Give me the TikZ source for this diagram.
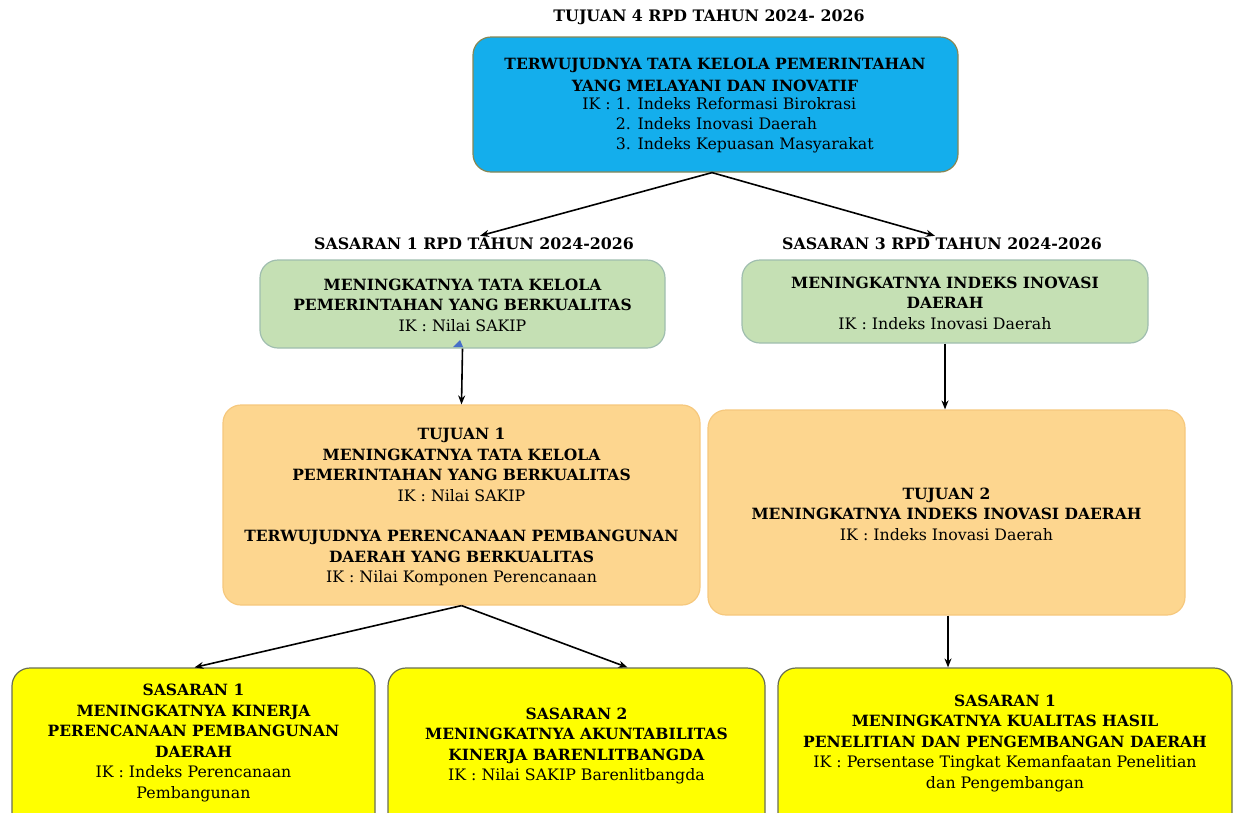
\documentclass[tikz,border=0pt]{standalone}
\usepackage{fontspec}
\setmainfont{DejaVu Serif}
\usetikzlibrary{arrows.meta,calc}
\definecolor{bluefill}{RGB}{20,174,236}
\definecolor{blueline}{RGB}{135,135,85}
\definecolor{greenfill}{RGB}{197,224,180}
\definecolor{greenline}{RGB}{160,190,175}
\definecolor{orangefill}{RGB}{253,214,143}
\definecolor{orangeline}{RGB}{246,200,125}
\definecolor{yellowfill}{RGB}{255,255,0}
\definecolor{yellowline}{RGB}{105,110,85}
\definecolor{tinyblue}{RGB}{70,110,200}
\newcommand{\bt}[1]{{\fontsize{15.5}{20}\selectfont\bfseries #1}}
\begin{document}
\begin{tikzpicture}[x=1pt,y=-1pt,
  boxbase/.style={rounded corners=18pt,line width=1.2pt,inner sep=0pt},
  bluebox/.style={boxbase,fill=bluefill,draw=blueline},
  greenbox/.style={boxbase,fill=greenfill,draw=greenline},
  orangebox/.style={boxbase,fill=orangefill,draw=orangeline},
  yellowbox/.style={boxbase,fill=yellowfill,draw=yellowline},
  titletext/.style={font=\fontsize{15.8}{18}\selectfont\bfseries,inner sep=2pt},
  txt/.style={align=center,font=\fontsize{15.8}{20.5}\selectfont,inner sep=0pt},
  txtl/.style={align=left,font=\fontsize{15.8}{20}\selectfont,inner sep=0pt},
  arr/.style={-{Stealth[length=9pt,width=7pt]},line width=1.6pt,black}
]
\useasboundingbox (0,0) rectangle (1235,812);
\clip (0,0) rectangle (1235,812);

% titles
\node[titletext] (t4) at (709,17) {TUJUAN 4 RPD TAHUN 2024- 2026};
\node[titletext] (ts1) at (474,244) {SASARAN 1 RPD TAHUN 2024-2026};
\node[titletext] (ts3) at (942,244) {SASARAN 3 RPD TAHUN 2024-2026};

% blue box
\node[bluebox,minimum width=485pt,minimum height=135pt] (blue) at (715.5,104.5) {};
\node[txt] (bluet) at (715,75) {\bt{TERWUJUDNYA TATA KELOLA PEMERINTAHAN}\\[2pt]
\bt{YANG MELAYANI DAN INOVATIF}};
\node[txtl,anchor=north] (bluel) at (728,97) {IK : 1. Indeks Reformasi Birokrasi\\
\phantom{IK : }2. Indeks Inovasi Daerah\\
\phantom{IK : }3. Indeks Kepuasan Masyarakat};

\node[greenbox,minimum width=405pt,minimum height=88pt] (g1) at (462.5,304) {};
\node[txt] (g1t) at (462.5,305) {\bt{MENINGKATNYA TATA KELOLA}\\
\bt{PEMERINTAHAN YANG BERKUALITAS}\\IK : Nilai SAKIP};

\node[greenbox,minimum width=406pt,minimum height=83pt] (g3) at (945,301.5) {};
\node[txt] (g3t) at (945,303) {\bt{MENINGKATNYA INDEKS INOVASI}\\
\bt{DAERAH}\\IK : Indeks Inovasi Daerah};

\node[orangebox,minimum width=477pt,minimum height=200pt] (o1) at (461.5,505) {};
\node[txt] (o1t) at (461.5,507) {\bt{TUJUAN 1}\\
\bt{MENINGKATNYA TATA KELOLA}\\
\bt{PEMERINTAHAN YANG BERKUALITAS}\\
IK : Nilai SAKIP\\[20pt]
\bt{TERWUJUDNYA PERENCANAAN PEMBANGUNAN}\\
\bt{DAERAH YANG BERKUALITAS}\\
IK : Nilai Komponen Perencanaan};

\node[orangebox,minimum width=477pt,minimum height=205pt] (o2) at (946.5,512.5) {};
\node[txt] (o2t) at (946.5,514) {\bt{TUJUAN 2}\\
\bt{MENINGKATNYA INDEKS INOVASI DAERAH}\\
IK : Indeks Inovasi Daerah};

\node[yellowbox,minimum width=363pt,minimum height=180pt] (y1) at (193.5,758) {};
\node[txt] (y1t) at (193.5,743) {\bt{SASARAN 1}\\
\bt{MENINGKATNYA KINERJA}\\
\bt{PERENCANAAN PEMBANGUNAN}\\
\bt{DAERAH}\\
IK : Indeks Perencanaan\\Pembangunan};

\node[yellowbox,minimum width=377pt,minimum height=180pt] (y2) at (576.5,758) {};
\node[txt] (y2t) at (576.5,746) {\bt{SASARAN 2}\\
\bt{MENINGKATNYA AKUNTABILITAS}\\
\bt{KINERJA BARENLITBANGDA}\\
IK : Nilai SAKIP Barenlitbangda};

\node[yellowbox,minimum width=454pt,minimum height=180pt] (y3) at (1005,758) {};
\node[txt] (y3t) at (1005,743) {\bt{SASARAN 1}\\
\bt{MENINGKATNYA KUALITAS HASIL}\\
\bt{PENELITIAN DAN PENGEMBANGAN DAERAH}\\
IK : Persentase Tingkat Kemanfaatan Penelitian\\
dan Pengembangan};

% connectors
\draw[arr] (blue.south -| 712,0) -- ([xshift=6pt]ts1.north);
\draw[arr] (blue.south -| 712,0) -- ([xshift=-7pt]ts3.north);
\draw[arr] (g1.south) -- (o1.north);
\draw[arr] (g3.south) -- (g3.south |- o2.north);
\draw[arr] (o1.south) -- ([xshift=1pt]y1.north);
\draw[arr] (o1.south) -- ([xshift=51pt]y2.north);
\draw[arr] ([xshift=1.5pt]o2.south) -- ([xshift=1.5pt]o2.south |- y3.north);

% small blue mark
\fill[tinyblue] (453,347) -- (463,347) -- (460,340) -- cycle;
\end{tikzpicture}
\end{document}
